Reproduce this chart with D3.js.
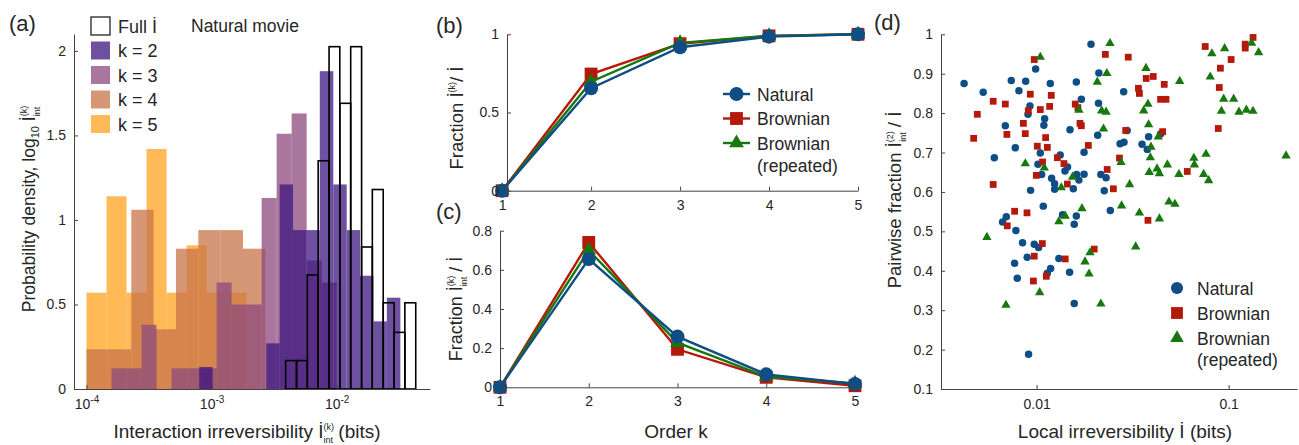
<!DOCTYPE html>
<html>
<head>
<meta charset="utf-8">
<script src="https://cdn.jsdelivr.net/npm/d3@7"></script>
<style>
body{margin:0;background:#fff}
text{font-family:"Liberation Sans",Arial,sans-serif;fill:#262626}
</style>
</head>
<body>
<script>
// ---- panel (a): histograms, bin edges in log10(bits), heights = density
var k5Edges = [-4.0,-3.84,-3.68,-3.52,-3.36,-3.2,-3.04,-2.88,-2.72];
var k5Heights = [0.57,1.14,0.57,1.42,0.57,0.85,0.57,0.57];
var k4Edges = [-4.0,-3.822,-3.642,-3.464,-3.285,-3.106,-2.927,-2.749,-2.57];
var k4Heights = [0.235,0.235,1.06,0.353,0.83,0.94,0.94,0.83];
var k3Edges = [-3.8,-3.68,-3.56,-3.44,-3.32,-3.2,-3.08,-2.96,-2.84,-2.72,-2.6,-2.48,-2.36,-2.24,-2.12,-2.0];
var k3Heights = [0.122,0.122,0.38,0,0.122,0.122,0.122,0.63,0.5,0.5,1.13,1.51,1.63,0.76,0.63];
var k2Edges = [-3.099,-2.992,-2.885,-2.778,-2.67,-2.563,-2.456,-2.349,-2.242,-2.135,-2.027,-1.92,-1.813,-1.706,-1.599,-1.491];
var k2Heights = [0.13,0,0,0,0,0.27,1.21,0.94,0.94,1.88,1.21,0.94,0.67,0.40,0.54];
var fullEdges = [-2.408,-2.321,-2.235,-2.148,-2.061,-1.975,-1.888,-1.801,-1.715,-1.628,-1.541,-1.455,-1.368];
var fullHeights = [0.168,0.168,0.675,1.35,2.025,1.69,2.025,0.84,1.18,0.51,0.335,0.51];
var histTicksX = [1e-4,1e-3,1e-2];
var histTicksY = [0,0.5,1,1.5,2];

// ---- panels (b), (c)
var orders = [1,2,3,4,5];
var cumNatural = [0,0.655,0.917,0.985,1.0];
var cumBrownian = [0,0.746,0.94,0.99,1.0];
var cumRepeated = [0,0.697,0.945,0.99,1.0];
var fracNatural = [0,0.655,0.259,0.066,0.017];
var fracBrownian = [0,0.74,0.194,0.051,0.008];
var fracRepeated = [0,0.70,0.228,0.055,0.02];

// ---- panel (d): [local irreversibility (bits), pairwise fraction]
var natural = [[0.00419,0.875],[0.00527,0.853],[0.00602,0.687],[0.00687,0.768],[0.00738,0.883],[0.00774,0.712],[0.00809,0.857],[0.00877,0.881],[0.00902,0.797],[0.00923,0.818],[0.0093,0.604],[0.00988,0.912],[0.01016,0.670],[0.01045,0.699],[0.01062,0.644],[0.01091,0.769],[0.01101,0.786],[0.01178,0.875],[0.01197,0.635],[0.01241,0.621],[0.01241,0.607],[0.01327,0.694],[0.01405,0.653],[0.01449,0.663],[0.01492,0.758],[0.01553,0.608],[0.0161,0.879],[0.01615,0.644],[0.0166,0.630],[0.0171,0.835],[0.01766,0.701],[0.01766,0.645],[0.0192,0.975],
  [0.00665,0.524],[0.00695,0.537],[0.0078,0.502],[0.00845,0.471],[0.00768,0.419],[0.00793,0.381],[0.00893,0.434],[0.00972,0.467],[0.01024,0.459],[0.01083,0.564],[0.01137,0.394],[0.01183,0.406],[0.01306,0.431],[0.01365,0.542],[0.01485,0.396],[0.0157,0.317],[0.0161,0.539],[0.0157,0.518],[0.00908,0.188],
  [0.0211,0.902],[0.0284,0.854],[0.021,0.825],[0.0296,0.756],[0.0208,0.744],[0.0383,0.74],[0.0442,0.747],[0.0272,0.722],[0.0285,0.726],[0.0354,0.721],[0.0377,0.708],[0.0216,0.644],[0.023,0.636],[0.0225,0.603],[0.0242,0.553]];
var brownian = [[0.0047,0.736],[0.00491,0.797],[0.00594,0.830],[0.00594,0.619],[0.00687,0.823],[0.007,0.746],[0.00853,0.774],[0.00873,0.748],[0.00905,0.806],[0.00927,0.848],[0.00972,0.936],[0.01008,0.716],[0.01045,0.809],[0.01074,0.676],[0.00996,0.642],[0.01114,0.738],[0.01137,0.713],[0.01169,0.817],[0.01192,0.845],[0.01282,0.687],[0.01388,0.672],[0.01445,0.620],[0.01589,0.823],[0.0164,0.814],[0.01682,0.774],[0.0171,0.768],[0.01859,0.718],
  [0.00768,0.551],[0.00891,0.547],[0.00703,0.514],[0.01071,0.469],[0.00972,0.437],[0.00962,0.374],[0.01123,0.386],[0.01409,0.43],[0.01995,0.455],
  [0.0228,0.949],[0.03,0.942],[0.0755,0.969],[0.134,0.992],[0.122,0.975],[0.122,0.965],[0.103,0.936],[0.0906,0.914],[0.0372,0.888],[0.0405,0.893],[0.0462,0.873],[0.0894,0.865],[0.0339,0.863],[0.0343,0.85],[0.0442,0.835],[0.0472,0.835],[0.0291,0.756],[0.0453,0.753],[0.0883,0.761],[0.027,0.686],[0.0233,0.657],[0.0609,0.652],[0.0251,0.608],[0.038,0.528]];
var repeated = [[0.01045,0.942],[0.00873,0.672],[0.01096,0.661],[0.01344,0.611],[0.01539,0.638],[0.0166,0.808],
  [0.00551,0.485],[0.00692,0.313],[0.01037,0.345],[0.01306,0.525],[0.01409,0.539],[0.01722,0.558],[0.01786,0.423],[0.01897,0.446],[0.01875,0.392],
  [0.0241,0.977],[0.0207,0.879],[0.0232,0.901],[0.0371,0.914],[0.0818,0.951],[0.0953,0.964],[0.1317,0.978],[0.1432,0.954],[0.0556,0.881],[0.0802,0.892],[0.038,0.823],[0.0361,0.806],[0.0218,0.806],[0.023,0.803],[0.0942,0.836],[0.1062,0.836],[0.0917,0.805],[0.1132,0.803],[0.1237,0.808],[0.1339,0.805],[0.0223,0.76],[0.0383,0.771],[0.043,0.74],[0.0394,0.714],[0.0391,0.687],[0.0275,0.675],[0.0424,0.659],[0.048,0.669],[0.0386,0.65],[0.0436,0.647],[0.0551,0.645],[0.0659,0.686],[0.0762,0.696],[0.0663,0.669],[0.0741,0.645],[0.0787,0.629],[0.199,0.692],[0.0305,0.619],[0.0277,0.565],[0.0489,0.575],[0.0525,0.569],[0.0343,0.547],[0.0436,0.532],
  [0.0328,0.461],[0.0216,0.316]];

var seriesNames = ['Natural','Brownian','Brownian'];
var histNames = ['Full ','k = 2','k = 3','k = 4','k = 5'];

var blue = '#0f4d85', red = '#b5190a', green = '#17780f';
var axisColor = '#444';

var svg = d3.select('body').append('svg').attr('width',1299).attr('height',445);

var styleAxis = function(g){
	g.select('.domain').attr('stroke',axisColor);
	g.selectAll('.tick line').attr('stroke',axisColor);
	g.selectAll('.tick text').attr('font-size',14).attr('fill','#262626')
		.attr('font-family','"Liberation Sans",Arial,sans-serif');
};

// dotted-i with stacked super/subscripts, then the rest of the label back on the baseline
var addIdot = function(t, sup, sub, rest){
	t.append('tspan').text('İ');
	var back = 0;
	if(sup){ t.append('tspan').attr('font-size',9).attr('dy',-8).text(sup); back = 8; }
	if(sub){
		t.append('tspan').attr('font-size',9).attr('dx',sup ? -10.5 : 0).attr('dy',sup ? 13 : 4).text(sub);
		back = -5;
	}
	if(rest){ t.append('tspan').attr('dy',back).text(rest); }
};

// ================= panel (a)
var xA = d3.scaleLog().domain([Math.pow(10,-4.1),Math.pow(10,-1.254)]).range([74,430]);
var yA = d3.scaleLinear().domain([0,2.1]).range([389,34]);

var drawHist = function(edges, heights, color, opacity, outline){
	var bins = heights.map(function(h,i){ return {x0:edges[i],x1:edges[i+1],h:h}; }).filter(function(d){ return d.h>0; });
	svg.append('g').selectAll('rect').data(bins).enter().append('rect')
		.attr('x',function(d){ return xA(Math.pow(10,d.x0)); })
		.attr('width',function(d){ return xA(Math.pow(10,d.x1))-xA(Math.pow(10,d.x0)); })
		.attr('y',function(d){ return yA(d.h); })
		.attr('height',function(d){ return yA(0)-yA(d.h); })
		.attr('fill',outline ? 'none' : color)
		.attr('fill-opacity',opacity)
		.attr('stroke',outline ? '#000' : 'none')
		.attr('stroke-width',1.6);
};
var histColors = ['#fff','#3d1680','#8c4a7c','#c8744a','#ffa31f'];
drawHist(k5Edges,k5Heights,histColors[4],0.75,false);
drawHist(k4Edges,k4Heights,histColors[3],0.75,false);
drawHist(k3Edges,k3Heights,histColors[2],0.75,false);
drawHist(k2Edges,k2Heights,histColors[1],0.75,false);
drawHist(fullEdges,fullHeights,'none',1,true);

var gAx = svg.append('g').attr('transform','translate(0,389)')
	.call(d3.axisBottom(xA).tickValues(histTicksX).tickSize(-4).tickSizeOuter(0).tickPadding(10));
styleAxis(gAx);
gAx.selectAll('.tick text').text(null).each(function(d){
	var t = d3.select(this);
	t.append('tspan').text('10');
	t.append('tspan').attr('font-size',10).attr('dy',-6).text(Math.round(Math.log10(d)));
});
var gAy = svg.append('g').attr('transform','translate(74,0)')
	.call(d3.axisLeft(yA).tickValues(histTicksY).tickSize(-4).tickSizeOuter(0).tickPadding(8).tickFormat(d3.format('')));
styleAxis(gAy);

// legend (a)
histNames.forEach(function(name,i){
	var cy = 26 + i*24.5;
	svg.append('rect').attr('x',91).attr('y',cy-9).attr('width',19).attr('height',18)
		.attr('fill',i===0 ? '#fff' : histColors[i]).attr('fill-opacity',i===0 ? 1 : 0.75)
		.attr('stroke',i===0 ? '#222' : 'none').attr('stroke-width',1.3);
	var t = svg.append('text').attr('x',118).attr('y',cy+6.5).attr('font-size',18).text(name);
	if(i===0){ t.append('tspan').text('İ'); }
});
svg.append('text').attr('x',191).attr('y',32).attr('font-size',17.5).text('Natural movie');
svg.append('text').attr('x',9).attr('y',31).attr('font-size',22).text('(a)');

var xlA = svg.append('text').attr('x',247).attr('y',438).attr('font-size',19).attr('text-anchor','middle');
xlA.append('tspan').text('Interaction irreversibility ');
addIdot(xlA,'(k)','int',' (bits)');

var ylA = svg.append('text').attr('transform','translate(35,209) rotate(-90)').attr('font-size',17.5).attr('text-anchor','middle');
ylA.append('tspan').text('Probability density, log');
ylA.append('tspan').attr('font-size',11).attr('dy',4).text('10');
ylA.append('tspan').attr('dy',-4).text(' ');
addIdot(ylA,'(k)','int',null);

// ================= panel (b)
var symCircle = d3.symbol().type(d3.symbolCircle);
var symSquare = d3.symbol().type(d3.symbolSquare);
var symTri = d3.symbol().type(d3.symbolTriangle);

var drawSeries = function(xs, ys, vals, color, sym, size){
	var line = d3.line().x(function(d,i){ return xs(orders[i]); }).y(function(d){ return ys(d); });
	svg.append('path').datum(vals).attr('d',line).attr('fill','none').attr('stroke',color).attr('stroke-width',2.4);
	svg.append('g').selectAll('path').data(vals).enter().append('path')
		.attr('transform',function(d,i){ return 'translate('+xs(orders[i])+','+ys(d)+')'; })
		.attr('d',sym.size(size)).attr('fill',color);
};

var xB = d3.scaleLinear().domain([1.055,5]).range([507,858]);
var yB = d3.scaleLinear().domain([0,1]).range([190.7,34.3]);
drawSeries(xB,yB,cumBrownian,red,symSquare,165);
drawSeries(xB,yB,cumRepeated,green,symTri,95);
drawSeries(xB,yB,cumNatural,blue,symCircle,155);
var gBx = svg.append('g').attr('transform','translate(0,190.7)')
	.call(d3.axisBottom(xB).tickValues(orders).tickSize(-4).tickSizeOuter(0).tickPadding(9).tickFormat(d3.format('d')));
styleAxis(gBx);
var gBy = svg.append('g').attr('transform','translate(507,0)')
	.call(d3.axisLeft(yB).tickValues([0,0.5,1]).tickSize(-4).tickSizeOuter(0).tickPadding(8).tickFormat(d3.format('')));
styleAxis(gBy);
svg.append('text').attr('x',436).attr('y',33).attr('font-size',22).text('(b)');
var ylB = svg.append('text').attr('transform','translate(463,118) rotate(-90)').attr('font-size',18.5).attr('text-anchor','middle');
ylB.append('tspan').text('Fraction ');
addIdot(ylB,'(k)',null,'/ İ');

// legend (b)
var legB = [[blue,symCircle,155],[red,symSquare,165],[green,symTri,95]];
legB.forEach(function(s,i){
	var cy = 94 + i*24.5;
	svg.append('line').attr('x1',723).attr('x2',750).attr('y1',cy).attr('y2',cy).attr('stroke',s[0]).attr('stroke-width',2.4);
	svg.append('path').attr('transform','translate(736.5,'+cy+')').attr('d',s[1].size(s[2])).attr('fill',s[0]);
	svg.append('text').attr('x',757).attr('y',cy+6.5).attr('font-size',17.5).text(seriesNames[i]);
});
svg.append('text').attr('x',757).attr('y',172).attr('font-size',17.5).text('(repeated)');

// ================= panel (c)
var xC = d3.scaleLinear().domain([1,5]).range([500,855]);
var yC = d3.scaleLinear().domain([0,0.8]).range([387.3,230.7]);
drawSeries(xC,yC,fracBrownian,red,symSquare,165);
drawSeries(xC,yC,fracRepeated,green,symTri,95);
drawSeries(xC,yC,fracNatural,blue,symCircle,155);
var gCx = svg.append('g').attr('transform','translate(0,387.3)')
	.call(d3.axisBottom(xC).tickValues(orders).tickSize(-4).tickSizeOuter(0).tickPadding(9).tickFormat(d3.format('d')));
styleAxis(gCx);
var gCy = svg.append('g').attr('transform','translate(500,0)')
	.call(d3.axisLeft(yC).tickValues([0,0.2,0.4,0.6,0.8]).tickSize(-4).tickSizeOuter(0).tickPadding(8).tickFormat(function(d){ return d===0 ? '0' : d.toFixed(1); }));
styleAxis(gCy);
svg.append('text').attr('x',436).attr('y',219).attr('font-size',22).text('(c)');
svg.append('text').attr('x',676).attr('y',438).attr('font-size',19).attr('text-anchor','middle').text('Order k');
var ylC = svg.append('text').attr('transform','translate(462,309) rotate(-90)').attr('font-size',18).attr('text-anchor','middle');
ylC.append('tspan').text('Fraction ');
addIdot(ylC,'(k)','int',' / İ');

// ================= panel (d)
var xD = d3.scaleLog().domain([Math.pow(10,-2.498),Math.pow(10,-0.644)]).range([941,1297]);
var yD = d3.scaleLinear().domain([0.1,1]).range([389,34.3]);
var drawScatter = function(pts, color, sym, size){
	svg.append('g').selectAll('path').data(pts).enter().append('path')
		.attr('transform',function(d){ return 'translate('+xD(d[0])+','+yD(d[1])+')'; })
		.attr('d',sym.size(size)).attr('fill',color);
};
drawScatter(natural,blue,symCircle,44);
drawScatter(brownian,red,symSquare,46);
drawScatter(repeated,green,symTri,38);

var gDx = svg.append('g').attr('transform','translate(0,389)')
	.call(d3.axisBottom(xD).tickValues([0.01,0.1]).tickSize(-4).tickSizeOuter(0).tickPadding(10).tickFormat(function(d){ return d===0.01 ? '0.01' : '0.1'; }));
styleAxis(gDx);
var gDy = svg.append('g').attr('transform','translate(941,0)')
	.call(d3.axisLeft(yD).tickValues([0.1,0.2,0.3,0.4,0.5,0.6,0.7,0.8,0.9,1]).tickSize(-4).tickSizeOuter(0).tickPadding(8).tickFormat(function(d){ return d===1 ? '1' : d.toFixed(1); }));
styleAxis(gDy);
svg.append('text').attr('x',874).attr('y',30).attr('font-size',22).text('(d)');
svg.append('text').attr('x',1125).attr('y',438).attr('font-size',19).attr('text-anchor','middle').text('Local irreversibility İ (bits)');
var ylD = svg.append('text').attr('transform','translate(901,200) rotate(-90)').attr('font-size',18.5).attr('text-anchor','middle');
ylD.append('tspan').text('Pairwise fraction ');
addIdot(ylD,'(2)','int',' / İ');

// legend (d)
var legD = [[blue,symCircle,115],[red,symSquare,140],[green,symTri,80]];
legD.forEach(function(s,i){
	var cy = 288 + i*25;
	svg.append('path').attr('transform','translate(1177,'+cy+')').attr('d',s[1].size(s[2])).attr('fill',s[0]);
	svg.append('text').attr('x',1197).attr('y',cy+6.5).attr('font-size',17.5).text(seriesNames[i]);
});
svg.append('text').attr('x',1197).attr('y',366).attr('font-size',17.5).text('(repeated)');
</script>
</body>
</html>
